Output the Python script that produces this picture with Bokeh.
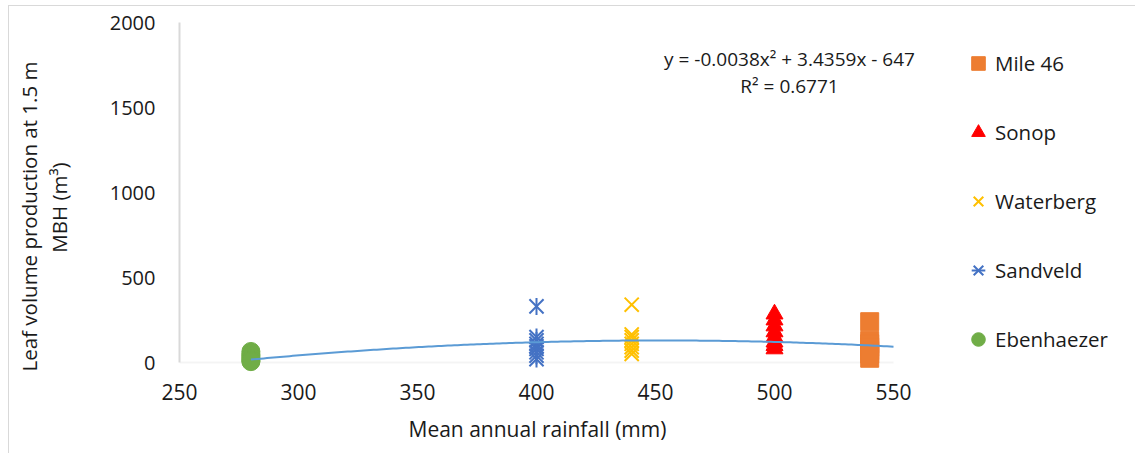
import math
import numpy as np
from bokeh.plotting import figure
from bokeh.layouts import row
from bokeh.models import (Range1d, Label, Legend, LegendItem, FixedTicker,
                          BoxAnnotation, Title)
from bokeh.embed import file_html
from bokeh.resources import INLINE

FONT = "Open Sans"
TXT = "#1a1a1a"
GRAY = "#D9D9D9"

# ---- data ----
x_ticks = [250, 300, 350, 400, 450, 500, 550]
y_ticks = [0, 500, 1000, 1500, 2000]

mile46_rain = 540
mile46_leaf = [240, 130, 110, 90, 70, 50, 25]

sonop_rain = 500
sonop_leaf = [285, 250, 215, 180, 150, 120, 100, 80]

waterberg_rain = 440
waterberg_leaf = [340, 165, 150, 130, 110, 90, 70, 50]

sandveld_rain = 400
sandveld_leaf = [330, 150, 130, 110, 95, 80, 60, 40, 20]

ebenhaezer_rain = 280
ebenhaezer_leaf = [65, 50, 40, 30, 20, 10, 5]

# polynomial trendline shown on the chart
trend_a = -0.0038
trend_b = 3.4359
trend_c = -647
trend_x_start = 280
trend_x_end = 550
equation_text = "y = -0.0038x\u00b2 + 3.4359x - 647"
r2_text = "R\u00b2 = 0.6771"
y_title_1 = "Leaf volume production at 1.5 m"
y_title_2 = "MBH (m\u00b3)"
x_title = "Mean annual rainfall (mm)"

# ---- left strip (y title); its frame spans page rows 10..372 ----
left = figure(width=100, height=453, x_range=Range1d(0, 100), y_range=Range1d(372, 10),
              output_backend="svg", toolbar_location=None, x_axis_type=None,
              y_axis_type=None, min_border_left=0, min_border_right=0,
              min_border_top=10, min_border_bottom=81)
left.grid.visible = False
left.outline_line_color = None
left.background_fill_alpha = 0
left.border_fill_alpha = 0
left.add_layout(Label(x=28, y=216, text=y_title_1, angle=math.pi / 2,
                      text_align="center", text_baseline="middle", text_font=FONT,
                      text_font_size="20.5px", text_color=TXT))
left.add_layout(Label(x=58, y=207, text=y_title_2, angle=math.pi / 2,
                      text_align="center", text_baseline="middle", text_font=FONT,
                      text_font_size="20.5px", text_color=TXT))

# ---- main chart ----
px_per_x = 714 / 300.0
px_per_y = 340 / 2000.0
p = figure(width=1035, height=453,
           x_range=Range1d(250, 250 + 956 / px_per_x),
           y_range=Range1d(-10 / px_per_y, 352 / px_per_y),
           output_backend="svg", toolbar_location=None,
           min_border_left=79, min_border_right=0, min_border_top=10, min_border_bottom=81)
p.background_fill_color = "white"
p.border_fill_alpha = 0
p.outline_line_color = None
p.xgrid.visible = False
p.ygrid.visible = False

for ax in (p.xaxis[0], p.yaxis[0]):
    ax.major_tick_line_color = None
    ax.minor_tick_line_color = None
    ax.major_label_text_font = FONT
    ax.major_label_text_color = TXT

p.xaxis.axis_line_color = None
p.xaxis.bounds = (250, 550)
p.yaxis.bounds = (0, 2000)
p.yaxis.axis_line_color = GRAY
p.yaxis.axis_line_width = 2
p.xaxis.ticker = FixedTicker(ticks=x_ticks)
p.yaxis.ticker = FixedTicker(ticks=y_ticks)
p.xaxis.major_label_text_font_size = "21px"
p.yaxis.major_label_text_font_size = "20px"
p.xaxis.major_label_standoff = 5
p.yaxis.major_label_standoff = 18

# x title, left-aligned under the axis span
p.add_layout(Title(text=x_title, align="left", offset=229, standoff=21,
                   text_font=FONT, text_font_size="21px", text_font_style="normal",
                   text_color=TXT), "below")

# zero line of the value axis, spanning the category axis only
p.add_layout(BoxAnnotation(left=250, right=550, bottom=0, top=0, fill_alpha=0,
                           line_color=GRAY, line_width=2, level="underlay"))


def xs(rain, vals):
    return [rain] * len(vals)


r_eb = p.scatter(xs(ebenhaezer_rain, ebenhaezer_leaf), ebenhaezer_leaf, marker="circle",
                 size=18, fill_color="#70AD47", line_color="#70AD47")
r_sa1 = p.scatter(xs(sandveld_rain, sandveld_leaf), sandveld_leaf, marker="x",
                  size=20, line_color="#4472C4", line_width=2)
r_sa2 = p.scatter(xs(sandveld_rain, sandveld_leaf), sandveld_leaf, marker="dash",
                  size=17, angle=math.pi / 2, line_color="#4472C4", line_width=2)
r_wa = p.scatter(xs(waterberg_rain, waterberg_leaf), waterberg_leaf, marker="x",
                 size=20, line_color="#FFC000", line_width=2)
r_so = p.scatter(xs(sonop_rain, sonop_leaf), sonop_leaf, marker="triangle",
                 size=17, fill_color="#FF0000", line_color="#FF0000")
r_mi = p.scatter(xs(mile46_rain, mile46_leaf), mile46_leaf, marker="square",
                 size=18, fill_color="#ED7D31", line_color="#ED7D31", line_width=1)

# trendline (drawn over the markers, as in the original)
tx = np.linspace(trend_x_start, trend_x_end, 200)
ty = trend_a * tx ** 2 + trend_b * tx + trend_c
p.line(tx, ty, line_color="#5B9BD5", line_width=2)

legend = Legend(items=[
    LegendItem(label="Mile 46", renderers=[r_mi]),
    LegendItem(label="Sonop", renderers=[r_so]),
    LegendItem(label="Waterberg", renderers=[r_wa]),
    LegendItem(label="Sandveld", renderers=[r_sa1, r_sa2]),
    LegendItem(label="Ebenhaezer", renderers=[r_eb]),
], location=(782, 14), orientation="vertical", glyph_width=34, glyph_height=38,
    label_standoff=0, spacing=31, padding=0, margin=0, border_line_color=None,
    background_fill_alpha=0, label_text_font=FONT, label_text_font_size="20.5px",
    label_text_color=TXT, label_height=38)
p.add_layout(legend)

# equation labels
p.add_layout(Label(x=610, y=314, x_units="screen", y_units="screen", text=equation_text,
                   text_align="center", text_baseline="middle", text_font=FONT,
                   text_font_size="19px", text_color=TXT))
p.add_layout(Label(x=610, y=287, x_units="screen", y_units="screen", text=r2_text,
                   text_align="center", text_baseline="middle", text_font=FONT,
                   text_font_size="19px", text_color=TXT))

# light chart-area border (top and left edges), painted behind the transparent canvases
border_css = ("linear-gradient(#D9D9D9, #D9D9D9) 8px 5px / 1px 448px no-repeat, "
              "linear-gradient(#D9D9D9, #D9D9D9) 8px 5px / 1127px 1px no-repeat, white")
layout = row(left, p, styles={"background": border_css})
open("out.html", "w").write(file_html(layout, INLINE))
